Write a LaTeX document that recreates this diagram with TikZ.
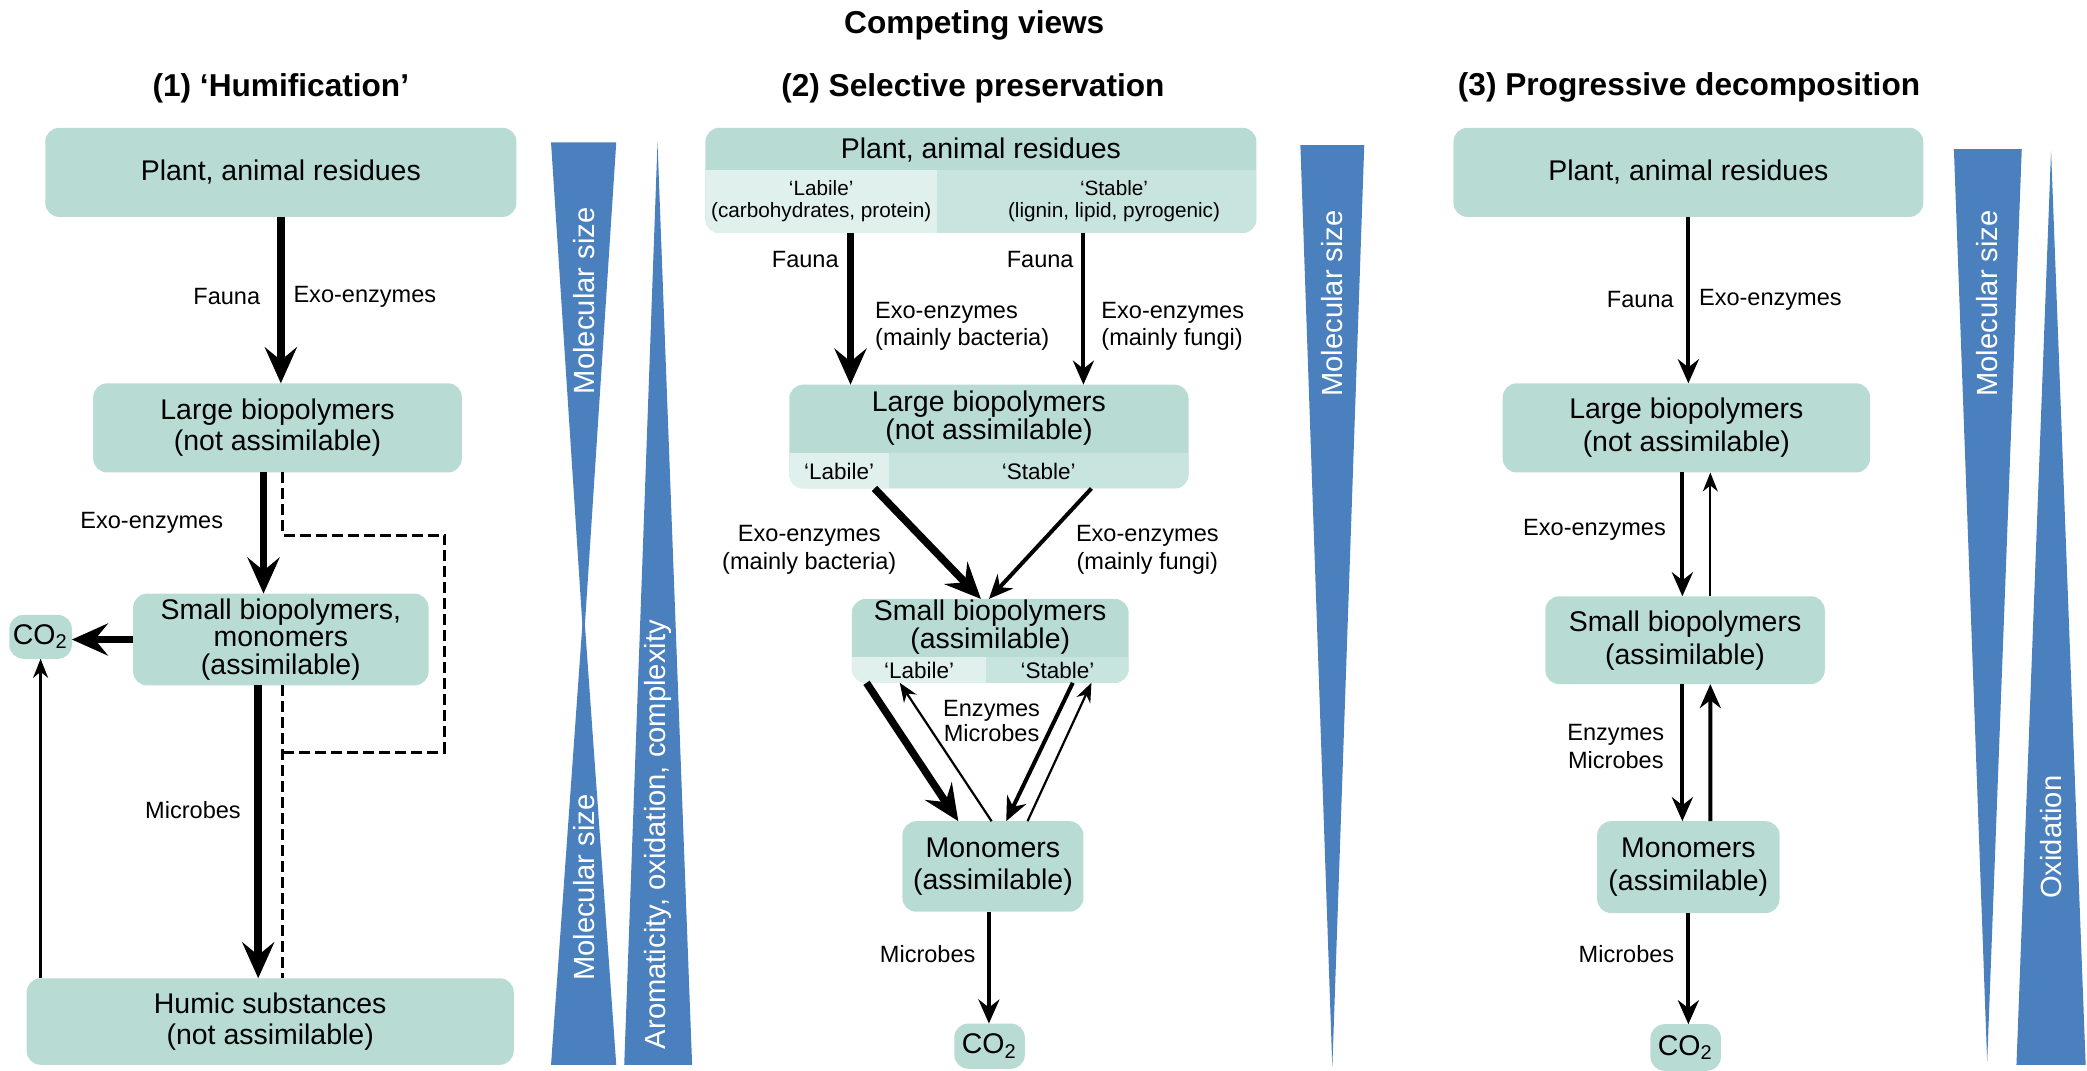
\documentclass[tikz,border=0pt]{standalone}
\usepackage{fontspec}
\setmainfont{Liberation Sans}
\usepackage{tikz}
\usetikzlibrary{arrows.meta, calc}
\newlength\pu
\setlength\pu{0.1331mm}
\definecolor{boxfill}{RGB}{184,219,212}
\definecolor{labfill}{RGB}{224,240,237}
\definecolor{stabfill}{RGB}{200,228,222}
\definecolor{wedgeblue}{RGB}{75,128,190}

\begin{document}
\begin{tikzpicture}[
  x=0.1331mm, y=-0.1331mm,
  box/.style={rectangle, rounded corners=1.4mm, fill=boxfill, inner sep=0pt, outer sep=0pt,
    align=center, font=\fontsize{8.1}{8.8}\selectfont},
  txt/.style={inner sep=0pt, align=center, font=\fontsize{8.1}{8.8}\selectfont},
  sub/.style={inner sep=0pt, align=center, font=\fontsize{5.9}{6.1}\selectfont},
  subb/.style={inner sep=0pt, align=center, font=\fontsize{6.4}{7}\selectfont},
  lbl/.style={inner sep=0pt, align=center, font=\fontsize{6.7}{7.8}\selectfont},
  head/.style={inner sep=0pt, font=\bfseries\fontsize{9}{10}\selectfont},
  wedgetxt/.style={inner sep=0pt, text=white, rotate=90, font=\fontsize{8.3}{9}\selectfont},
  arrbig/.style={-{Stealth[length=3.6mm, width=3.2mm, inset=1.3mm]}, line width=0.75mm},
  arrmid/.style={-{Stealth[length=2.4mm, width=2.1mm, inset=0.8mm]}, line width=0.4mm},
  arrthin/.style={-{Stealth[length=1.9mm, width=1.5mm, inset=0.6mm]}, line width=0.22mm},
  dashline/.style={dash pattern=on 1.1mm off 0.5mm, line width=0.3mm}
]
\useasboundingbox (0,0) rectangle (1568,804);

% titles
\node[head] (title) at (732,19) {Competing views};
\node[head] (h1) at (211,66) {(1) ‘Humification’};
\node[head] (h2) at (731,66) {(2) Selective preservation};
\node[head] (h3) at (1269,66) {(3) Progressive decomposition};

% wedges
\fill[wedgeblue] (414,107) -- (463,107) -- (438.5,484) -- cycle;
\fill[wedgeblue] (438.5,456) -- (463,800) -- (414,800) -- cycle;
\fill[wedgeblue] (494,107) -- (520,800) -- (469,800) -- cycle;
\fill[wedgeblue] (977,109) -- (1025,109) -- (1001,802) -- cycle;
\fill[wedgeblue] (1468,112) -- (1519,112) -- (1493,798) -- cycle;
\fill[wedgeblue] (1541,113) -- (1567,800) -- (1515,800) -- cycle;
\node[wedgetxt] (w1a) at (438.5,226) {Molecular size};
\node[wedgetxt] (w1b) at (438.5,667) {Molecular size};
\node[wedgetxt] (w2) at (494,627) {Aromaticity, oxidation, complexity};
\node[wedgetxt] (w3) at (1001,228) {Molecular size};
\node[wedgetxt] (w4) at (1493,228) {Molecular size};
\node[wedgetxt] (w5) at (1541,629) {Oxidation};

% (1) humification
\node[box, minimum width=354*\pu, minimum height=67*\pu] (p1plant) at (211,129.5) {Plant, animal residues};
\node[box, minimum width=277*\pu, minimum height=67*\pu] (p1large) at (208.5,321.5) {Large biopolymers\\(not assimilable)};
\node[box, minimum width=222*\pu, minimum height=69*\pu, font=\fontsize{8.1}{7.8}\selectfont] (p1small) at (211,480.5) {Small biopolymers,\\monomers\\(assimilable)};
\node[box, minimum width=47*\pu, minimum height=33*\pu] (p1co2) at (30.5,478.5) {CO\textsubscript{2}};
\node[box, minimum width=366*\pu, minimum height=65*\pu] (p1humic) at (203,767.5) {Humic substances\\(not assimilable)};

\draw[arrbig] (p1plant.south) -- (p1plant.south |- p1large.north);
\node[lbl, anchor=east] (p1fauna) at (196,223) {Fauna};
\node[lbl, anchor=west] (p1exo) at (220,223) {Exo-enzymes};
\draw[arrbig] ($(p1large.south)+(-10.5,0)$) -- ($(p1small.north)+(-13,0)$);
\node[lbl] (p1exo2) at (114,393) {Exo-enzymes};
\draw[dashline] ($(p1large.south)+(3.5,0)$) -- ++(0,47) -- ++(122,0) -- ++(0,163) -- ++(-122,0);
\draw[dashline] ($(p1small.south)+(1,0)$) -- ($(p1humic.north)+(9,0)$);
\draw[arrbig] (p1small.west) -- (p1small.west -| p1co2.east);
\draw[arrbig] ($(p1small.south)+(-17,0)$) -- ($(p1humic.north)+(-9,0)$);
\node[lbl] (p1mic) at (145,609) {Microbes};
\draw[arrthin] (p1humic.north -| p1co2.south) -- (p1co2.south);

% (2) selective preservation
\node[box, minimum width=414*\pu, minimum height=79*\pu] (p2plant) at (737,135.5) {};
\begin{scope}
  \clip[rounded corners=1.4mm] (p2plant.south west) rectangle (p2plant.north east);
  \fill[labfill] (p2plant.south west) rectangle (704,128);
  \fill[stabfill] (704,128) rectangle (p2plant.south east);
\end{scope}
\node[txt] (p2plantT) at (737,113) {Plant, animal residues};
\node[sub] (p2plantL) at (617,151) {‘Labile’\\(carbohydrates, protein)};
\node[sub] (p2plantS) at (837,151) {‘Stable’\\(lignin, lipid, pyrogenic)};

\node[box, minimum width=300*\pu, minimum height=78*\pu] (p2large) at (743,328) {};
\begin{scope}
  \clip[rounded corners=1.4mm] (p2large.south west) rectangle (p2large.north east);
  \fill[labfill] (p2large.south west) rectangle (668,340);
  \fill[stabfill] (668,340) rectangle (p2large.south east);
\end{scope}
\node[txt, font=\fontsize{8.1}{8}\selectfont] (p2largeT) at (743,314) {Large biopolymers\\(not assimilable)};
\node[subb] (p2largeL) at (630.5,354) {‘Labile’};
\node[subb] (p2largeS) at (780.5,354) {‘Stable’};

\node[box, minimum width=208*\pu, minimum height=63*\pu] (p2small) at (744,481.5) {};
\begin{scope}
  \clip[rounded corners=1.4mm] (p2small.south west) rectangle (p2small.north east);
  \fill[labfill] (p2small.south west) rectangle (741,493.5);
  \fill[stabfill] (741,493.5) rectangle (p2small.south east);
\end{scope}
\node[txt, font=\fontsize{8.1}{8}\selectfont] (p2smallT) at (744,471) {Small biopolymers\\(assimilable)};
\node[subb] (p2smallL) at (690.5,503.5) {‘Labile’};
\node[subb] (p2smallS) at (794.5,503.5) {‘Stable’};

\node[box, minimum width=136*\pu, minimum height=68*\pu, font=\fontsize{8.1}{9.2}\selectfont] (p2mono) at (746,651) {Monomers\\(assimilable)};
\node[box, minimum width=53*\pu, minimum height=34*\pu] (p2co2) at (743.5,786) {CO\textsubscript{2}};

\draw[arrbig] ($(p2plant.south)+(-98,0)$) -- ($(p2large.north)+(-104,0)$);
\draw[arrmid] ($(p2plant.south)+(77,0)$) -- ($(p2large.north)+(71,0)$);
\node[lbl] (p2fauna1) at (605,195) {Fauna};
\node[lbl] (p2fauna2) at (781.5,195) {Fauna};
\node[lbl, anchor=west, align=left] (p2exo1) at (657,245) {Exo-enzymes\\(mainly bacteria)};
\node[lbl, anchor=west, align=left] (p2exo2) at (827,245) {Exo-enzymes\\(mainly fungi)};

\draw[arrbig] ($(p2large.south)+(-86,0)$) -- ($(p2small.north)+(-7,0)$);
\draw[arrmid] ($(p2large.south)+(77,0)$) -- ($(p2small.north)+(-1,0)$);
\node[lbl] (p2exo3) at (608,413) {Exo-enzymes\\(mainly bacteria)};
\node[lbl] (p2exo4) at (862,413) {Exo-enzymes\\(mainly fungi)};

\draw[arrbig] ($(p2small.south)+(-93,0)$) -- ($(p2mono.north)+(-26,0)$);
\draw[arrthin] ($(p2mono.north)+(-1,0)$) -- ($(p2small.south)+(-68,0)$);
\draw[arrmid] ($(p2small.south)+(62,0)$) -- ($(p2mono.north)+(10,0)$);
\draw[arrthin] ($(p2mono.north)+(26,0)$) -- ($(p2small.south)+(76,0)$);
\node[lbl, font=\fontsize{6.7}{7}\selectfont] (p2enz) at (745,541.5) {Enzymes\\Microbes};

\draw[arrmid] ($(p2mono.south)+(-3,0)$) -- ($(p2co2.north)+(-0.5,0)$);
\node[lbl] (p2mic) at (697,717) {Microbes};

% (3) progressive decomposition
\node[box, minimum width=353*\pu, minimum height=67*\pu] (p3plant) at (1268.5,129.5) {Plant, animal residues};
\node[box, minimum width=276*\pu, minimum height=67*\pu, font=\fontsize{8.1}{9.4}\selectfont] (p3large) at (1267,321.5) {Large biopolymers\\(not assimilable)};
\node[box, minimum width=210*\pu, minimum height=66*\pu, font=\fontsize{8.1}{9.4}\selectfont] (p3small) at (1266,481) {Small biopolymers\\(assimilable)};
\node[box, minimum width=137*\pu, minimum height=69*\pu, font=\fontsize{8.1}{9.4}\selectfont] (p3mono) at (1268.5,651.5) {Monomers\\(assimilable)};
\node[box, minimum width=53*\pu, minimum height=35*\pu] (p3co2) at (1266.5,787) {CO\textsubscript{2}};

\draw[arrmid] (p3plant.south) -- (p3plant.south |- p3large.north);
\node[lbl, anchor=east] (p3fauna) at (1258,225) {Fauna};
\node[lbl, anchor=west] (p3exo) at (1276,225) {Exo-enzymes};
\draw[arrmid] ($(p3large.south)+(-3,0)$) -- ($(p3small.north)+(-2,0)$);
\draw[arrthin] ($(p3small.north)+(19,0)$) -- ($(p3large.south)+(18,0)$);
\node[lbl] (p3exo2) at (1198,398) {Exo-enzymes};
\draw[arrmid] ($(p3small.south)+(-2,0)$) -- ($(p3mono.north)+(-4.5,0)$);
\draw[arrmid] ($(p3mono.north)+(16.5,0)$) -- ($(p3small.south)+(19,0)$);
\node[lbl] (p3enz) at (1214,561) {Enzymes\\Microbes};
\draw[arrmid] (p3mono.south) -- (p3mono.south |- p3co2.north);
\node[lbl] (p3mic) at (1222,717) {Microbes};
\end{tikzpicture}
\end{document}
